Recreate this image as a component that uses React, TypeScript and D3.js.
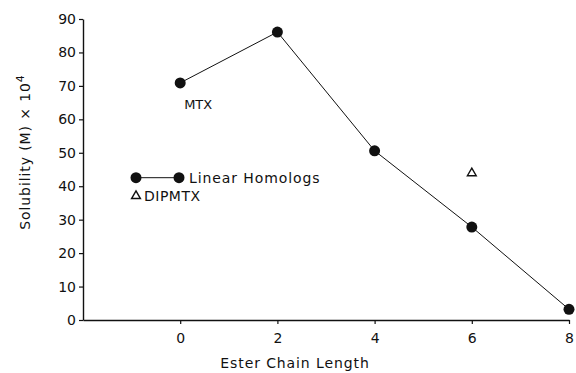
import React, { useEffect, useRef } from "react";
import * as d3 from "d3";

const chainLength = [0, 2, 4, 6, 8];
const solubility = [70.9, 86.1, 50.6, 27.8, 3.2];
const dipmtxX = [6];
const dipmtxY = [43.9];
const xTicks = [0, 2, 4, 6, 8];
const yTicks = [0, 10, 20, 30, 40, 50, 60, 70, 80, 90];

const W = 576;
const H = 373;
const FONT = "'DejaVu Sans', sans-serif";

export default function App() {
  const ref = useRef<SVGSVGElement>(null);
  useEffect(() => {
    const svg = d3.select(ref.current);
    svg.selectAll("*").remove();
    const x = d3.scaleLinear().domain([-2, 8]).range([83, 569]);
    const y = d3.scaleLinear().domain([0, 90]).range([320, 19]);

    // axes
    const gy = svg.append("g").attr("transform", `translate(${x(-2)},0)`);
    gy.call(d3.axisLeft(y).tickValues(yTicks).tickSize(4).tickPadding(3).tickSizeOuter(0));
    const gx = svg.append("g").attr("transform", `translate(0,${y(0)})`);
    gx.call(d3.axisBottom(x).tickValues(xTicks).tickSize(4).tickPadding(9).tickSizeOuter(0));
    [gx, gy].forEach((g) => {
      g.select(".domain").attr("stroke", "#111").attr("stroke-width", 1.4);
      g.selectAll(".tick line").attr("stroke", "#111").attr("stroke-width", 1.2);
      g.selectAll(".tick text")
        .attr("fill", "#111")
        .style("font-family", FONT)
        .style("font-size", "14px");
    });

    // line
    const data = chainLength.map((c, i) => [c, solubility[i]] as [number, number]);
    svg
      .append("path")
      .datum(data)
      .attr("fill", "none")
      .attr("stroke", "#111")
      .attr("stroke-width", 1)
      .attr("d", d3.line<[number, number]>().x((d) => x(d[0])).y((d) => y(d[1])));
    svg
      .selectAll("circle.pt")
      .data(data)
      .enter()
      .append("circle")
      .attr("class", "pt")
      .attr("cx", (d) => x(d[0]))
      .attr("cy", (d) => y(d[1]))
      .attr("r", 5.5)
      .attr("fill", "#111");

    const tri = d3.symbol().type(d3.symbolTriangle).size(34);
    dipmtxX.forEach((v, i) => {
      svg
        .append("path")
        .attr("d", tri()!)
        .attr("transform", `translate(${x(v)},${y(dipmtxY[i])})`)
        .attr("fill", "none")
        .attr("stroke", "#111")
        .attr("stroke-width", 1.4);
    });

    // MTX label
    svg
      .append("text")
      .attr("x", x(0) + 18)
      .attr("y", y(solubility[0]) + 26)
      .attr("text-anchor", "middle")
      .style("font-family", FONT)
      .style("font-size", "13px")
      .attr("fill", "#111")
      .text("MTX");

    // legend
    const lg = svg.append("g");
    lg.append("line").attr("x1", 136).attr("x2", 179).attr("y1", 177.7).attr("y2", 177.7).attr("stroke", "#111").attr("stroke-width", 1);
    lg.append("circle").attr("cx", 136).attr("cy", 177.7).attr("r", 5.5).attr("fill", "#111");
    lg.append("circle").attr("cx", 179).attr("cy", 177.7).attr("r", 5.5).attr("fill", "#111");
    lg.append("text").attr("x", 189).attr("y", 183).style("font-family", FONT).style("font-size", "14px").style("letter-spacing", "0.9px").attr("fill", "#111").text("Linear Homologs");
    lg.append("path").attr("d", tri()!).attr("transform", `translate(136,196)`).attr("fill", "none").attr("stroke", "#111").attr("stroke-width", 1.4);
    lg.append("text").attr("x", 144).attr("y", 201).style("font-family", FONT).style("font-size", "14px").style("letter-spacing", "0.5px").attr("fill", "#111").text("DIPMTX");

    // axis titles
    svg
      .append("text")
      .attr("x", 295)
      .attr("y", 368)
      .attr("text-anchor", "middle")
      .style("font-family", FONT)
      .style("font-size", "14px")
      .style("letter-spacing", "0.9px")
      .attr("fill", "#111")
      .text("Ester Chain Length");
    const yt = svg
      .append("text")
      .attr("transform", `translate(30,152) rotate(-90)`)
      .attr("text-anchor", "middle")
      .style("font-family", FONT)
      .style("font-size", "14px")
      .style("letter-spacing", "0.9px")
      .attr("fill", "#111");
    yt.append("tspan").text("Solubility (M) × 10");
    yt.append("tspan").attr("dy", -6).style("font-size", "11px").text("4");
  }, []);

  return (
    <svg
      ref={ref}
      width={W}
      height={H}
      style={{ position: "absolute", left: 0, top: 0, background: "#fff" }}
    />
  );
}
